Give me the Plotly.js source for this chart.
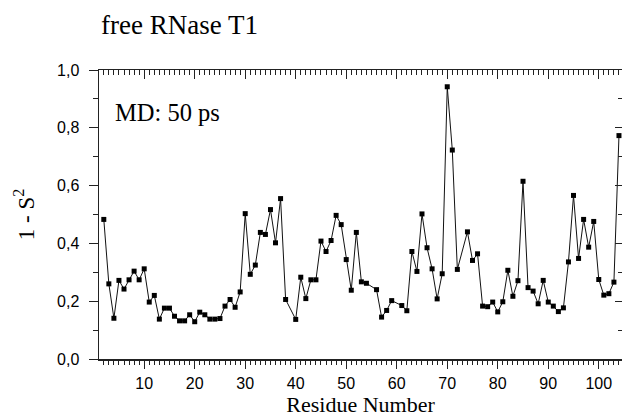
<!DOCTYPE html>
<html>
<head>
<meta charset="utf-8">
<script src="https://cdn.plot.ly/plotly-3.0.1.min.js"></script>
<style>html,body{margin:0;padding:0;background:#fff;}#chart{width:622px;height:417px;}</style>
</head>
<body>
<div id="chart"></div>
<script>
// Residue numbers (prolines 39, 55, 60, 73 have no value)
const residues = [
  2,3,4,5,6,7,8,9,10,11,12,13,14,15,16,17,18,19,20,21,22,23,24,25,26,27,28,29,30,31,32,33,34,35,36,37,38,
  40,41,42,43,44,45,46,47,48,49,50,51,52,53,54,
  56,57,58,59,
  61,62,63,64,65,66,67,68,69,70,71,72,
  74,75,76,77,78,79,80,81,82,83,84,85,86,87,88,89,90,91,92,93,94,95,96,97,98,99,100,101,102,103,104
];
// 1 - S^2 values
const oneMinusS2 = [
  0.483,0.260,0.141,0.272,0.242,0.274,0.304,0.274,0.312,0.197,0.220,0.138,0.176,0.176,0.148,0.132,0.132,0.153,0.129,0.162,0.153,0.138,0.138,0.140,0.183,0.206,0.179,0.232,0.503,0.293,0.325,0.438,0.431,0.517,0.402,0.555,0.206,
  0.137,0.283,0.209,0.274,0.274,0.408,0.372,0.410,0.497,0.465,0.344,0.238,0.438,0.267,0.262,
  0.240,0.145,0.168,0.202,
  0.185,0.167,0.372,0.303,0.502,0.385,0.312,0.208,0.295,0.942,0.723,0.310,
  0.440,0.341,0.364,0.183,0.181,0.197,0.163,0.198,0.307,0.217,0.271,0.615,0.247,0.235,0.191,0.272,0.197,0.183,0.164,0.177,0.336,0.566,0.348,0.483,0.387,0.476,0.275,0.221,0.226,0.266,0.773
];
// Tick label steps
const xTickStep = 10;
const yTickStep = 0.2;

const xRange = [1.05, 104.6];
const yRange = [0, 1];
const axisColor = '#222';
const serif = 'Liberation Serif';
const sans = 'Liberation Sans';

const traces = [
  {
    x: residues, y: oneMinusS2, type: 'scatter', mode: 'lines+markers',
    line: {color: '#111', width: 1},
    marker: {symbol: 'square', size: 5, color: '#000'},
    hoverinfo: 'x+y', showlegend: false, cliponaxis: false
  },
  {
    x: residues, y: oneMinusS2, type: 'scatter', mode: 'markers',
    xaxis: 'x2', yaxis: 'y2',
    marker: {size: 1, opacity: 0},
    hoverinfo: 'skip', showlegend: false
  }
];

const layout = {
  width: 622, height: 417,
  margin: {l: 99, r: 0, t: 70, b: 58},
  paper_bgcolor: '#fff', plot_bgcolor: 'rgba(0,0,0,0)',
  separators: ',.',
  showlegend: false,
  title: {
    text: 'free RNase T1',
    font: {family: serif, size: 27, color: '#000'},
    xref: 'container', yref: 'container',
    x: 101/622, xanchor: 'left',
    y: 1 - 25/417, yanchor: 'middle'
  },
  xaxis: {
    range: xRange, tickmode: 'linear', tick0: 0, dtick: xTickStep,
    ticks: 'outside', ticklen: 8, tickwidth: 1, tickcolor: axisColor, ticklabelstandoff: 1,
    showline: true, linecolor: axisColor, linewidth: 1.5, showgrid: false, zeroline: false,
    minor: {dtick: 1, tick0: 0, ticks: 'outside', ticklen: 4, tickwidth: 1, tickcolor: axisColor, showgrid: false},
    tickfont: {family: sans, size: 16, color: '#000'},
    title: {text: 'Residue Number', font: {family: serif, size: 22, color: '#000'}, standoff: 6}
  },
  yaxis: {
    range: yRange, tickmode: 'linear', tick0: 0, dtick: yTickStep, tickformat: '.1f',
    ticks: 'outside', ticklen: 9, tickwidth: 1, tickcolor: axisColor, ticklabelstandoff: 6,
    showline: true, linecolor: axisColor, linewidth: 1.5, showgrid: false, zeroline: false,
    minor: {dtick: 0.1, tick0: 0, ticks: 'outside', ticklen: 5, tickwidth: 1, tickcolor: axisColor, showgrid: false},
    tickfont: {family: sans, size: 16, color: '#000'},
    title: {text: '1 - S<sup>2</sup>', font: {family: serif, size: 23, color: '#000'}, standoff: 16}
  },
  xaxis2: {
    overlaying: 'x', side: 'top', anchor: 'y2', range: xRange, tickmode: 'linear', tick0: 0, dtick: xTickStep,
    ticks: 'inside', ticklen: 9, tickwidth: 1, tickcolor: axisColor, showticklabels: false,
    showline: true, linecolor: axisColor, linewidth: 1.5, showgrid: false, zeroline: false,
    minor: {dtick: 1, tick0: 0, ticks: 'inside', ticklen: 5, tickwidth: 1, tickcolor: axisColor, showgrid: false}
  },
  yaxis2: {
    overlaying: 'y', side: 'right', anchor: 'x2', range: yRange, tickmode: 'linear', tick0: 0, dtick: yTickStep,
    ticks: 'inside', ticklen: 7, tickwidth: 1, tickcolor: axisColor, showticklabels: false,
    showline: true, linecolor: axisColor, linewidth: 1.5, showgrid: false, zeroline: false,
    minor: {dtick: 0.1, tick0: 0, ticks: 'inside', ticklen: 4, tickwidth: 1, tickcolor: axisColor, showgrid: false}
  },
  annotations: [
    {
      text: 'MD: 50 ps', xref: 'paper', yref: 'paper',
      x: (113 - 99) / 523, y: (359 - 112) / 289, xanchor: 'left', yanchor: 'middle',
      showarrow: false, font: {family: serif, size: 24.5, color: '#000'}
    }
  ]
};

Plotly.newPlot('chart', traces, layout, {displayModeBar: false, staticPlot: true});
</script>
</body>
</html>
